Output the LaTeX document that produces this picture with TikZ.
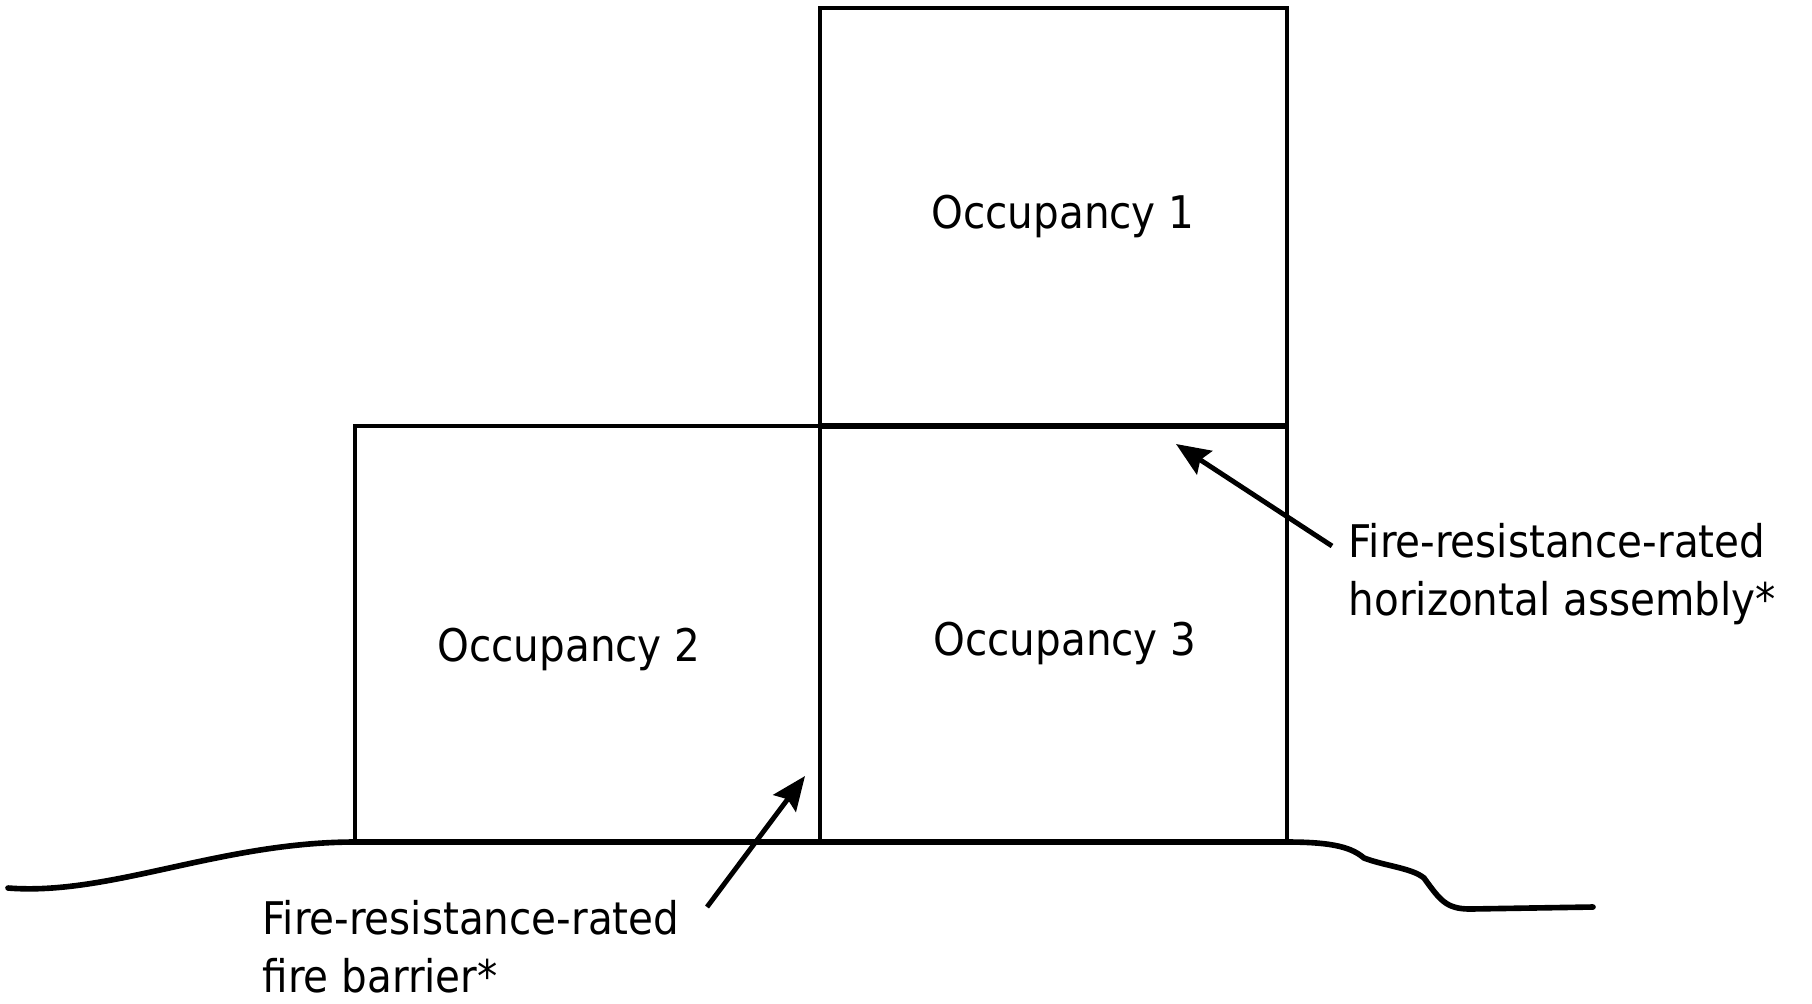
\documentclass[tikz,border=0pt]{standalone}
\usepackage{fontspec}
\setmainfont{DejaVu Sans Condensed}
\usetikzlibrary{arrows.meta}

\begin{document}
\begin{tikzpicture}[x=0.1mm, y=-0.1mm, >={Stealth[length=3.4mm, width=2.8mm, inset=0.5mm]},
  wall/.style={line width=1.3pt, line join=miter},
  ground/.style={line width=1.6pt, line cap=round},
  occ/.style={inner sep=0pt, font=\fontsize{12.8}{15}\selectfont},
  note/.style={inner sep=0pt, align=left, anchor=west, font=\fontsize{12.8}{16.4}\selectfont}]
\useasboundingbox (0,0) rectangle (1812,1003);
% Occupancies
\draw[wall] (820,426) rectangle (1287,8);
\draw[wall] (355,842) rectangle (820,426);
\draw[wall] (820,842) rectangle (1287,426);
\draw[line width=1.7pt] (820,426) -- (1287,426);
\node[occ] (occ1) at (1063,216) {Occupancy 1};
\node[occ] (occ2) at (569,649) {Occupancy 2};
\node[occ] (occ3) at (1065,643) {Occupancy 3};
% Grade
\draw[ground] (8,888) .. controls (110,896) and (220,842) .. (355,842) -- (1287,842)
  .. controls (1335,842) and (1352,848) .. (1364,858)
  .. controls (1385,866) and (1412,868) .. (1424,878)
  .. controls (1440,900) and (1446,909) .. (1470,909) -- (1593,907);
% Notes
\node[note] (hnote) at (1348,574) {Fire-resistance-rated\\horizontal assembly*};
\node[note] (bnote) at (262,947) {Fire-resistance-rated\\fire barrier*};
\coordinate (htail) at (1332,546);
\coordinate (htip) at (1176,444);
\coordinate (btail) at (707,907);
\coordinate (btip) at (805,776);
\draw[->, line width=1.4pt] (htail) -- (htip);
\draw[->, line width=1.4pt] (btail) -- (btip);
\end{tikzpicture}
\end{document}
